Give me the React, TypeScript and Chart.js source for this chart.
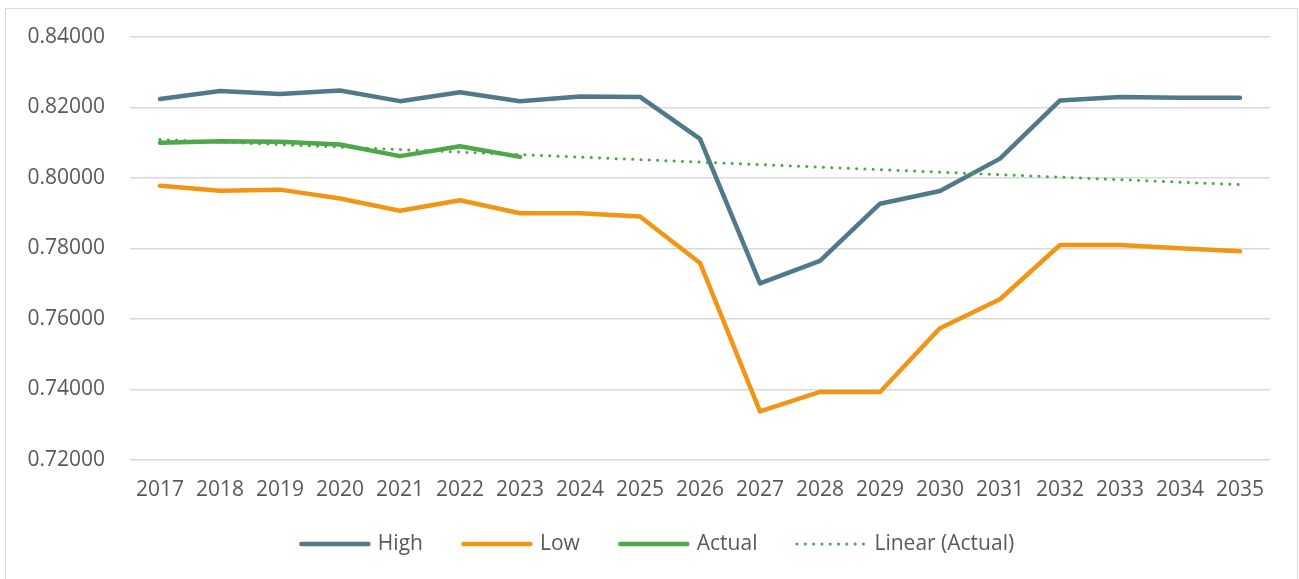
import React, { useEffect, useRef } from "react";
import { Chart, registerables } from "chart.js";

Chart.register(...registerables);

const years = ["2017","2018","2019","2020","2021","2022","2023","2024","2025","2026","2027","2028","2029","2030","2031","2032","2033","2034","2035"];
const highValues = [0.8224,0.8247,0.8238,0.8248,0.8218,0.8243,0.8218,0.8231,0.8230,0.8111,0.7701,0.7765,0.7927,0.7963,0.8055,0.8220,0.8230,0.8228,0.8228];
const lowValues = [0.7978,0.7964,0.7967,0.7942,0.7907,0.7937,0.7900,0.7900,0.7891,0.7759,0.7338,0.7393,0.7393,0.7574,0.7656,0.7810,0.7810,0.7801,0.7792];
const actualValues = [0.8100,0.8104,0.8103,0.8095,0.8062,0.8090,0.8060];
const trendYears = ["2017", "2035"];
const trendValues = [0.8109, 0.7981];
const yTicks = [0.72, 0.74, 0.76, 0.78, 0.80, 0.82, 0.84];

const FONT = "'Open Sans', 'Noto Sans', sans-serif";
const TEXT = "#595959";
const C_HIGH = "#50798A";
const C_LOW = "#F39514";
const C_ACT = "#4EA749";

const legendPlugin = {
  id: "customLegend",
  afterDraw(chart: any) {
    const ctx = chart.ctx;
    const ds = chart.data.datasets;
    const lineLen = 72, gapText = 7, gapItem = 38;
    ctx.save();
    ctx.font = `21px ${FONT}`;
    const widths = ds.map((d: any) => ctx.measureText(d.label).width);
    let total = 0;
    widths.forEach((w: number, i: number) => { total += lineLen + gapText + w + (i < widths.length - 1 ? gapItem : 0); });
    let x = chart.width / 2 - total / 2 + 5;
    const y = 535;
    ds.forEach((d: any, i: number) => {
      ctx.beginPath();
      ctx.strokeStyle = d.borderColor;
      ctx.lineWidth = d.borderWidth;
      ctx.lineCap = "round";
      ctx.setLineDash(d.borderDash || []);
      const inset = d.borderDash ? 1.5 : 2.5;
      ctx.moveTo(x + inset, y);
      ctx.lineTo(x + lineLen - inset, y);
      ctx.stroke();
      ctx.setLineDash([]);
      ctx.fillStyle = TEXT;
      ctx.textBaseline = "middle";
      ctx.textAlign = "left";
      ctx.fillText(d.label, x + lineLen + gapText, y);
      x += lineLen + gapText + widths[i] + gapItem;
    });
    ctx.restore();
  },
};

export default function App() {
  const ref = useRef<HTMLCanvasElement>(null);
  useEffect(() => {
    if (!ref.current) return;
    const chart = new Chart(ref.current, {
      type: "line",
      data: {
        labels: years,
        datasets: [
          { label: "High", data: highValues, borderColor: C_HIGH, backgroundColor: C_HIGH, borderWidth: 4.5, pointRadius: 0, borderCapStyle: "round", borderJoinStyle: "round", tension: 0, order: 3 },
          { label: "Low", data: lowValues, borderColor: C_LOW, backgroundColor: C_LOW, borderWidth: 4.5, pointRadius: 0, borderCapStyle: "round", borderJoinStyle: "round", tension: 0, order: 2 },
          { label: "Actual", data: actualValues, borderColor: C_ACT, backgroundColor: C_ACT, borderWidth: 4.5, pointRadius: 0, borderCapStyle: "round", borderJoinStyle: "round", tension: 0, order: 1 },
          { label: "Linear (Actual)", data: trendYears.map((yr, i) => ({ x: yr, y: trendValues[i] })), borderColor: C_ACT, backgroundColor: C_ACT, borderWidth: 3, borderDash: [0.1, 8.2], pointRadius: 0, borderCapStyle: "round", tension: 0, order: 0 },
        ],
      },
      options: {
        animation: false,
        responsive: false,
        devicePixelRatio: 1,
        layout: { padding: { top: 28, right: 27, left: 0, bottom: 77 } },
        plugins: { legend: { display: false }, tooltip: { enabled: false } },
        scales: {
          x: {
            offset: true,
            grid: { display: false, drawTicks: false },
            border: { display: false },
            ticks: { color: TEXT, font: { family: FONT, size: 21 }, padding: 17, maxRotation: 0, autoSkip: false },
            afterFit: (s: any) => { s.height = 50; },
          },
          y: {
            min: yTicks[0],
            max: yTicks[yTicks.length - 1],
            afterBuildTicks: (s: any) => { s.ticks = yTicks.map((v) => ({ value: v })); },
            grid: { color: "#D9D9D9", lineWidth: 1.5, drawTicks: false },
            border: { display: false },
            ticks: { color: TEXT, font: { family: FONT, size: 21 }, padding: 25, callback: (v: any) => Number(v).toFixed(5) },
            afterFit: (s: any) => { s.width = 124; s.paddingTop = 12; s.paddingBottom = 12; },
          },
        },
      },
      plugins: [legendPlugin],
    });
    return () => chart.destroy();
  }, []);
  return (
    <div style={{ position: "absolute", left: 5, top: 8, width: 1293, height: 600, border: "1px solid #D9D9D9", boxSizing: "border-box", background: "#fff" }}>
      <canvas ref={ref} width={1291} height={578} style={{ display: "block" }} />
    </div>
  );
}
